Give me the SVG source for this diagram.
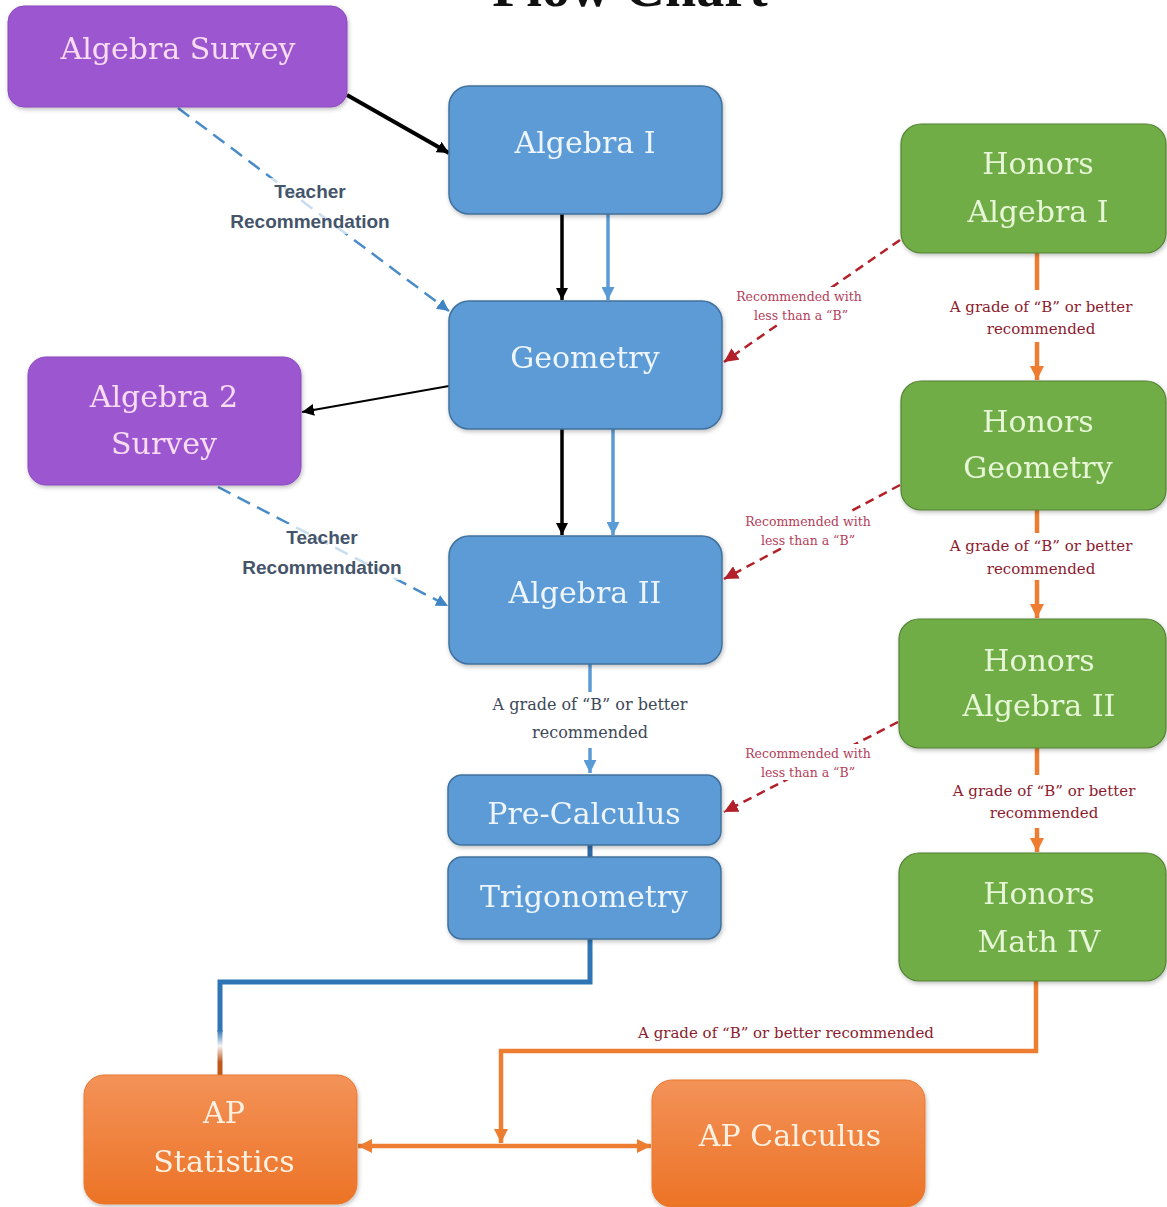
<svg xmlns="http://www.w3.org/2000/svg" width="1167" height="1207" viewBox="0 0 1167 1207">
<style>
  .node-text { font-family: "DejaVu Serif", "Liberation Serif", serif; font-size: 30px; text-anchor: middle; }
  .blue rect { fill: #5b9bd5; stroke: #41719c; stroke-width: 1.5; }
  .blue text { fill: #eef5fc; }
  .purple rect { fill: #9b57d0; stroke: #8a48be; stroke-width: 1; }
  .purple text { fill: #f9dcf2; }
  .green rect { fill: #70ad47; stroke: #548235; stroke-width: 1.2; }
  .green text { fill: #e6f6d6; }
  .orange rect { fill: url(#orangeGrad); stroke: #e9782f; stroke-width: 1; }
  .orange text { fill: #fff1e2; }
  .teacher { font-family: "Liberation Sans", Arial, sans-serif; font-weight: bold; font-size: 19px; fill: #44546a; text-anchor: middle; }
  .grade { font-family: "DejaVu Serif", "Liberation Serif", serif; text-anchor: middle; }
  .grade-blue { fill: #3d4858; font-size: 16px; }
  .grade-red { fill: #8c1b2e; font-size: 15px; }
  .recw { font-family: "DejaVu Serif", "Liberation Serif", serif; font-size: 12.5px; fill: #b3405a; text-anchor: middle; }
  .c-black { stroke: #000; fill: none; }
  .c-blue { stroke: #5b9bd5; fill: none; stroke-width: 3.5; }
  .c-dblue { stroke: #2e75b6; fill: none; stroke-width: 5; }
  .c-bluedash { stroke: #4a8cc8; fill: none; stroke-width: 2.5; stroke-dasharray: 14 8; }
  .c-red { stroke: #b3202a; fill: none; stroke-width: 2.5; stroke-dasharray: 9 6; }
  .c-orange { stroke: #ed7d31; fill: none; stroke-width: 4.5; }
</style>
<defs>
  <linearGradient id="orangeGrad" x1="0" y1="0" x2="0" y2="1">
    <stop offset="0" stop-color="#f39258"/>
    <stop offset="1" stop-color="#ec7326"/>
  </linearGradient>
  <linearGradient id="blueOrange" gradientUnits="userSpaceOnUse" x1="0" y1="1030" x2="0" y2="1062">
    <stop offset="0" stop-color="#2e75b6"/>
    <stop offset="0.5" stop-color="#f4f4f4"/>
    <stop offset="1" stop-color="#c0581c"/>
  </linearGradient>
  <filter id="shadow" x="-10%" y="-10%" width="125%" height="130%">
    <feDropShadow dx="1" dy="2" stdDeviation="2" flood-color="#000" flood-opacity="0.25"/>
  </filter>
  <marker id="ah-black" viewBox="0 0 10 10" refX="10" refY="5" markerWidth="12" markerHeight="12" markerUnits="userSpaceOnUse" orient="auto">
    <path d="M0,0 L10,5 L0,10 z" fill="#000"/>
  </marker>
  <marker id="ah-blue" viewBox="0 0 10 10" refX="10" refY="5" markerWidth="13" markerHeight="13" markerUnits="userSpaceOnUse" orient="auto">
    <path d="M0,0 L10,5 L0,10 z" fill="#5b9bd5"/>
  </marker>
  <marker id="ah-bluedash" viewBox="0 0 10 10" refX="10" refY="5" markerWidth="12" markerHeight="12" markerUnits="userSpaceOnUse" orient="auto">
    <path d="M0,0 L10,5 L0,10 z" fill="#3f84c4"/>
  </marker>
  <marker id="ah-red" viewBox="0 0 10 10" refX="10" refY="5" markerWidth="14" markerHeight="14" markerUnits="userSpaceOnUse" orient="auto">
    <path d="M0,0 L10,5 L0,10 z" fill="#b3202a"/>
  </marker>
  <marker id="ah-orange" viewBox="0 0 10 10" refX="10" refY="5" markerWidth="14" markerHeight="14" markerUnits="userSpaceOnUse" orient="auto-start-reverse">
    <path d="M0,0 L10,5 L0,10 z" fill="#ed7d31"/>
  </marker>
</defs>

<rect width="1167" height="1207" fill="#ffffff"/>

<text x="630" y="6" font-family="Liberation Serif, serif" font-weight="bold" font-size="56" text-anchor="middle" fill="#111">Flow Chart</text>

<g id="connectors">
  <!-- Algebra Survey -> Algebra I -->
  <line class="c-black" x1="347" y1="95" x2="449" y2="153" stroke-width="4" marker-end="url(#ah-black)"/>
  <!-- Algebra Survey -> Geometry (teacher rec) -->
  <line class="c-bluedash" x1="178" y1="108" x2="449" y2="311" marker-end="url(#ah-bluedash)"/>
  <!-- Algebra I -> Geometry -->
  <line class="c-black" x1="562" y1="214" x2="562" y2="300" stroke-width="3.5" marker-end="url(#ah-black)"/>
  <line class="c-blue" x1="608" y1="214" x2="608" y2="300" marker-end="url(#ah-blue)"/>
  <!-- Geometry -> Algebra 2 Survey -->
  <line class="c-black" x1="449" y1="386" x2="302" y2="412" stroke-width="2" marker-end="url(#ah-black)"/>
  <!-- Geometry -> Algebra II -->
  <line class="c-black" x1="562" y1="429" x2="562" y2="535" stroke-width="3.5" marker-end="url(#ah-black)"/>
  <line class="c-blue" x1="613" y1="429" x2="613" y2="535" marker-end="url(#ah-blue)"/>
  <!-- Algebra 2 Survey -> Algebra II (teacher rec) -->
  <line class="c-bluedash" x1="218" y1="487" x2="448" y2="606" marker-end="url(#ah-bluedash)"/>
  <!-- Algebra II -> Pre-Calculus -->
  <line class="c-blue" x1="590" y1="664" x2="590" y2="692"/>
  <line class="c-blue" x1="590" y1="748" x2="590" y2="773" marker-end="url(#ah-blue)"/>
  <!-- Pre-Calculus - Trigonometry -->
  <line stroke="#2e6aa5" stroke-width="5" x1="590" y1="845" x2="590" y2="857"/>
  <!-- Trigonometry -> AP Statistics -->
  <path class="c-dblue" d="M590,939 L590,982 L220,982 L220,1032"/>
  <line stroke="url(#blueOrange)" stroke-width="5" x1="220" y1="1030" x2="220" y2="1076"/>
  <!-- Honors chain -->
  <line class="c-orange" x1="1037" y1="253" x2="1037" y2="290"/>
  <line class="c-orange" x1="1037" y1="342" x2="1037" y2="380" marker-end="url(#ah-orange)"/>
  <line class="c-orange" x1="1037" y1="510" x2="1037" y2="533"/>
  <line class="c-orange" x1="1037" y1="580" x2="1037" y2="618" marker-end="url(#ah-orange)"/>
  <line class="c-orange" x1="1037" y1="748" x2="1037" y2="775"/>
  <line class="c-orange" x1="1037" y1="828" x2="1037" y2="852" marker-end="url(#ah-orange)"/>
  <!-- Honors Math IV -> AP -->
  <path class="c-orange" d="M1036,981 L1036,1051 L501,1051 L501,1143" marker-end="url(#ah-orange)"/>
  <!-- AP Statistics <-> AP Calculus -->
  <line class="c-orange" x1="358" y1="1146" x2="651" y2="1146" marker-start="url(#ah-orange)" marker-end="url(#ah-orange)"/>
  <!-- Honors -> regular (recommended with less than B) -->
  <line class="c-red" x1="900" y1="240" x2="724" y2="362" marker-end="url(#ah-red)"/>
  <line class="c-red" x1="900" y1="485" x2="724" y2="579" marker-end="url(#ah-red)"/>
  <line class="c-red" x1="898" y1="722" x2="724" y2="812" marker-end="url(#ah-red)"/>

  <!-- labels -->
  <rect x="222" y="178" width="178" height="56" fill="#fff" opacity="0.7"/>
  <text class="teacher" x="310" y="198">Teacher</text>
  <text class="teacher" x="310" y="228">Recommendation</text>
  <rect x="235" y="524" width="178" height="56" fill="#fff" opacity="0.7"/>
  <text class="teacher" x="322" y="544">Teacher</text>
  <text class="teacher" x="322" y="574">Recommendation</text>

  <text class="grade grade-blue" x="590" y="710">A grade of “B” or better</text>
  <text class="grade grade-blue" x="590" y="738">recommended</text>

  <text class="grade grade-red" x="1041" y="312">A grade of “B” or better</text>
  <text class="grade grade-red" x="1041" y="334">recommended</text>
  <text class="grade grade-red" x="1041" y="551">A grade of “B” or better</text>
  <text class="grade grade-red" x="1041" y="574">recommended</text>
  <text class="grade grade-red" x="1044" y="796">A grade of “B” or better</text>
  <text class="grade grade-red" x="1044" y="818">recommended</text>
  <text class="grade grade-red" x="786" y="1038">A grade of “B” or better recommended</text>

  <rect x="728" y="287" width="142" height="36" fill="#fff"/>
  <text class="recw" x="799" y="301">Recommended with</text>
  <text class="recw" x="801" y="320">less than a “B”</text>
  <rect x="736" y="512" width="142" height="36" fill="#fff"/>
  <text class="recw" x="808" y="526">Recommended with</text>
  <text class="recw" x="808" y="545">less than a “B”</text>
  <rect x="736" y="744" width="142" height="36" fill="#fff"/>
  <text class="recw" x="808" y="758">Recommended with</text>
  <text class="recw" x="808" y="777">less than a “B”</text>
</g>

<g id="algebra-survey" class="purple" filter="url(#shadow)">
  <rect x="8" y="6" width="339" height="101" rx="16"/>
  <text class="node-text" x="178" y="59">Algebra Survey</text>
</g>
<g id="algebra-1" class="blue" filter="url(#shadow)">
  <rect x="449" y="86" width="273" height="128" rx="20"/>
  <text class="node-text" x="585" y="153">Algebra I</text>
</g>
<g id="geometry" class="blue" filter="url(#shadow)">
  <rect x="449" y="301" width="273" height="128" rx="20"/>
  <text class="node-text" x="585" y="368">Geometry</text>
</g>
<g id="algebra-2-survey" class="purple" filter="url(#shadow)">
  <rect x="28" y="357" width="273" height="128" rx="18"/>
  <text class="node-text" x="164" y="407">Algebra 2</text>
  <text class="node-text" x="164" y="454">Survey</text>
</g>
<g id="algebra-2" class="blue" filter="url(#shadow)">
  <rect x="449" y="536" width="273" height="128" rx="20"/>
  <text class="node-text" x="585" y="603">Algebra II</text>
</g>
<g id="pre-calculus" class="blue" filter="url(#shadow)">
  <rect x="448" y="775" width="273" height="70" rx="14"/>
  <text class="node-text" x="584" y="824">Pre-Calculus</text>
</g>
<g id="trigonometry" class="blue" filter="url(#shadow)">
  <rect x="448" y="857" width="273" height="82" rx="14"/>
  <text class="node-text" x="584" y="907">Trigonometry</text>
</g>
<g id="honors-algebra-1" class="green" filter="url(#shadow)">
  <rect x="901" y="124" width="265" height="129" rx="20"/>
  <text class="node-text" x="1038" y="174">Honors</text>
  <text class="node-text" x="1038" y="222">Algebra I</text>
</g>
<g id="honors-geometry" class="green" filter="url(#shadow)">
  <rect x="901" y="381" width="265" height="129" rx="20"/>
  <text class="node-text" x="1038" y="432">Honors</text>
  <text class="node-text" x="1038" y="478">Geometry</text>
</g>
<g id="honors-algebra-2" class="green" filter="url(#shadow)">
  <rect x="899" y="619" width="267" height="129" rx="20"/>
  <text class="node-text" x="1039" y="671">Honors</text>
  <text class="node-text" x="1039" y="716">Algebra II</text>
</g>
<g id="honors-math-4" class="green" filter="url(#shadow)">
  <rect x="899" y="853" width="267" height="128" rx="20"/>
  <text class="node-text" x="1039" y="904">Honors</text>
  <text class="node-text" x="1039" y="952">Math IV</text>
</g>
<g id="ap-statistics" class="orange" filter="url(#shadow)">
  <rect x="84" y="1075" width="273" height="129" rx="20"/>
  <text class="node-text" x="224" y="1123">AP</text>
  <text class="node-text" x="224" y="1172">Statistics</text>
</g>
<g id="ap-calculus" class="orange" filter="url(#shadow)">
  <rect x="652" y="1080" width="273" height="127" rx="20"/>
  <text class="node-text" x="790" y="1146">AP Calculus</text>
</g>
</svg>
